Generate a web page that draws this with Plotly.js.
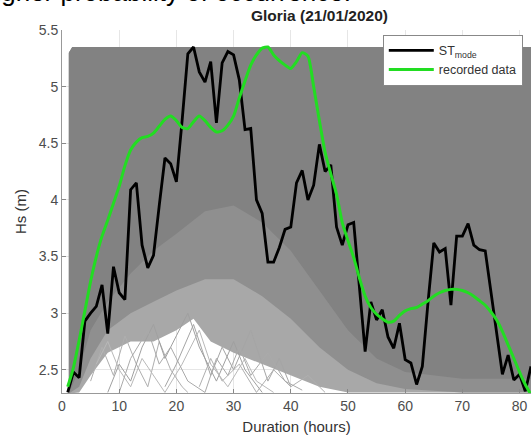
<!DOCTYPE html>
<html>
<head>
<meta charset="utf-8">
<script src="https://cdn.plot.ly/plotly-3.0.1.min.js"></script>
<style>html,body{margin:0;padding:0;background:#fff;}#chart{width:531px;height:439px;}</style>
</head>
<body>
<div id="chart"></div>
<script>
// ---- data ----
const hours = [1,2,3,4,5,6,7,8,9,10,11,12,13,14,15,16,17,18,19,20,21,22,23,24,25,26,27,28,29,30,31,32,33,34,35,36,37,38,39,40,41,42,43,44,45,46,47,48,49,50,51,52,53,54,55,56,57,58,59,60,61,62,63,64,65,66,67,68,69,70,71,72,73,74,75,76,77,78,79,80,81,82];
const stMode = [2.30,2.48,2.43,2.93,3.00,3.06,3.25,2.82,3.41,3.18,3.12,4.09,4.15,3.60,3.40,3.51,3.95,4.37,4.32,4.16,4.70,5.29,5.35,5.13,5.04,5.22,4.68,5.21,5.31,5.28,5.06,4.62,4.63,4.00,3.88,3.45,3.45,3.58,3.74,3.76,4.15,4.26,4.00,4.13,4.49,4.25,4.31,3.76,3.60,3.78,3.80,3.25,2.66,3.10,2.94,3.03,2.79,2.69,2.91,2.59,2.56,2.37,2.53,3.10,3.62,3.54,3.57,3.07,3.68,3.68,3.79,3.60,3.56,3.55,3.20,2.85,2.46,2.63,2.41,2.46,2.31,2.53];
const recorded = [2.35,2.52,2.76,3.02,3.28,3.50,3.68,3.82,3.97,4.12,4.30,4.44,4.51,4.55,4.56,4.59,4.65,4.71,4.74,4.70,4.64,4.63,4.69,4.74,4.70,4.64,4.60,4.61,4.66,4.74,4.90,5.05,5.19,5.28,5.34,5.35,5.28,5.23,5.19,5.16,5.22,5.30,5.27,5.00,4.70,4.42,4.23,4.05,3.80,3.64,3.49,3.31,3.15,3.05,2.99,2.95,2.92,2.93,2.98,3.02,3.04,3.05,3.08,3.11,3.15,3.18,3.20,3.21,3.21,3.20,3.18,3.15,3.11,3.07,3.01,2.94,2.84,2.72,2.60,2.48,2.37,2.28];

// envelope of the simulated series (gray mass), by density
const envX = [1.2, 1.8, 82.2];
const envTop = [5.30, 5.35, 5.35];
const denseX = [1.2, 3, 5, 8, 12, 16, 20, 25, 30, 35, 40, 45, 50, 55, 60, 70, 82.2];
const denseLow = [2.29, 2.50, 2.85, 3.10, 3.35, 3.55, 3.70, 3.90, 3.95, 3.80, 3.55, 3.20, 2.85, 2.60, 2.48, 2.42, 2.42];
const midLow = [2.29, 2.35, 2.60, 2.85, 3.00, 3.10, 3.20, 3.30, 3.30, 3.15, 2.95, 2.70, 2.50, 2.38, 2.33, 2.30, 2.30];
const sparseX = [1.2, 3, 5, 8, 12, 16, 20, 23, 26, 30, 35, 40, 45, 50, 55, 60, 70, 82.2];
const sparseLow = [2.29, 2.30, 2.45, 2.65, 2.75, 2.75, 2.85, 2.95, 2.75, 2.65, 2.55, 2.45, 2.35, 2.30, 2.30, 2.30, 2.30, 2.30];

// individually visible simulated series in the sparse lower-left region
const lightAx = [18,20,23,26,28,30,33,36,38,40];
const lightAy = [2.35,2.55,2.90,2.45,2.70,2.50,2.85,2.40,2.60,2.35];
const lightBx = [5,7,9,11,13,15,17,19,21,22];
const lightBy = [2.40,2.70,2.45,2.80,2.55,2.35,2.75,2.50,2.35,2.30];
const lightCx = [8,10,12,14,16,18,20,22,24,27,30,32,35];
const lightCy = [2.30,2.55,2.40,2.70,2.90,2.60,2.80,3.00,2.70,2.40,2.75,2.50,2.30];
const lightDx = [24,26,28,31,34,37,40,43,46];
const lightDy = [2.35,2.60,2.40,2.55,2.30,2.50,2.35,2.45,2.30];
const lightEx = [6,8,10,12,14,16,18,21,24,26,29,32,34,37];
const lightEy = [2.55,2.75,2.50,2.35,2.60,2.45,2.30,2.55,2.85,2.55,2.35,2.60,2.40,2.30];
const lightFx = [10,12,15,17,19,22,25,27,29,31,33,36,39,42];
const lightFy = [2.30,2.60,2.85,2.55,2.70,2.40,2.30,2.60,2.45,2.70,2.45,2.65,2.40,2.32];

const xTicks = [0,10,20,30,40,50,60,70,80];
const yTicks = [2.5,3,3.5,4,4.5,5,5.5];

function band(topX, topY, lowX, lowY, color) {
  return {
    x: topX.concat(lowX.slice().reverse()),
    y: topY.concat(lowY.slice().reverse()),
    type: 'scatter', mode: 'lines', fill: 'toself',
    fillcolor: color, line: {width: 0, color: color},
    hoverinfo: 'skip', showlegend: false
  };
}
function thin(x, y, c) {
  return {x: x, y: y, type: 'scatter', mode: 'lines',
    line: {color: c, width: 1}, hoverinfo: 'skip', showlegend: false};
}

const traces = [
  band(envX, envTop, sparseX, sparseLow, 'rgb(168,168,168)'),
  band(envX, envTop, denseX, midLow, 'rgb(143,143,143)'),
  band(envX, envTop, denseX, denseLow, 'rgb(130,130,130)'),
  thin(lightAx, lightAy, 'rgb(165,165,165)'), thin(lightBx, lightBy, 'rgb(175,175,175)'),
  thin(lightCx, lightCy, 'rgb(160,160,160)'), thin(lightDx, lightDy, 'rgb(175,175,175)'),
  thin(lightEx, lightEy, 'rgb(185,185,185)'), thin(lightFx, lightFy, 'rgb(170,170,170)'),
  {x: hours, y: stMode, type: 'scatter', mode: 'lines', name: 'ST<sub>mode</sub>',
   line: {color: '#000000', width: 2.8}},
  {x: hours, y: recorded, type: 'scatter', mode: 'lines', name: 'recorded data',
   line: {color: '#22dd22', width: 3, shape: 'spline', smoothing: 0.6}}
];

const layout = {
  width: 531, height: 439,
  margin: {l: 62, r: 0, t: 30, b: 46},
  paper_bgcolor: '#ffffff', plot_bgcolor: '#ffffff',
  font: {family: 'Liberation Sans, Arial, sans-serif', color: '#444444'},
  showlegend: true,
  legend: {x: 0.684, y: 0.987, xanchor: 'left', yanchor: 'top',
    bgcolor: '#ffffff', bordercolor: '#888888', borderwidth: 1, itemwidth: 45,
    font: {size: 12.5, color: '#333333'}, tracegroupgap: 2},
  xaxis: {range: [0, 82.0], tickvals: xTicks, ticks: 'inside', ticklen: 4, tickcolor: '#888888',
    showgrid: true, gridcolor: '#e6e6e6', zeroline: false,
    showline: true, linecolor: '#999999', linewidth: 1,
    tickfont: {size: 14, color: '#4d4d4d'},
    title: {text: 'Duration (hours)', font: {size: 15, color: '#333333'}, standoff: 8}},
  yaxis: {range: [2.295, 5.5], tickvals: yTicks, ticks: 'inside', ticklen: 4, tickcolor: '#888888',
    showgrid: true, gridcolor: '#e6e6e6', zeroline: false,
    showline: true, linecolor: '#999999', linewidth: 1,
    tickfont: {size: 14, color: '#4d4d4d'},
    title: {text: 'Hs (m)', font: {size: 15, color: '#333333'}, standoff: 8}},
  title: {text: '<b>Gloria (21/01/2020)</b>', font: {size: 15.5, color: '#222222'},
    x: 291.5/531, xanchor: 'center', xref: 'paper', yref: 'container', y: 1 - 10/439, yanchor: 'top'},
  annotations: [{
    text: 'higher probability of occurrence.', xref: 'paper', yref: 'paper',
    x: -83/469, y: 1 + 21/363, xanchor: 'left', yanchor: 'bottom', showarrow: false,
    font: {size: 26, color: '#000000', family: 'Liberation Sans, Arial, sans-serif'}
  }]
};

Plotly.newPlot('chart', traces, layout, {displayModeBar: false, staticPlot: true});
</script>
</body>
</html>
